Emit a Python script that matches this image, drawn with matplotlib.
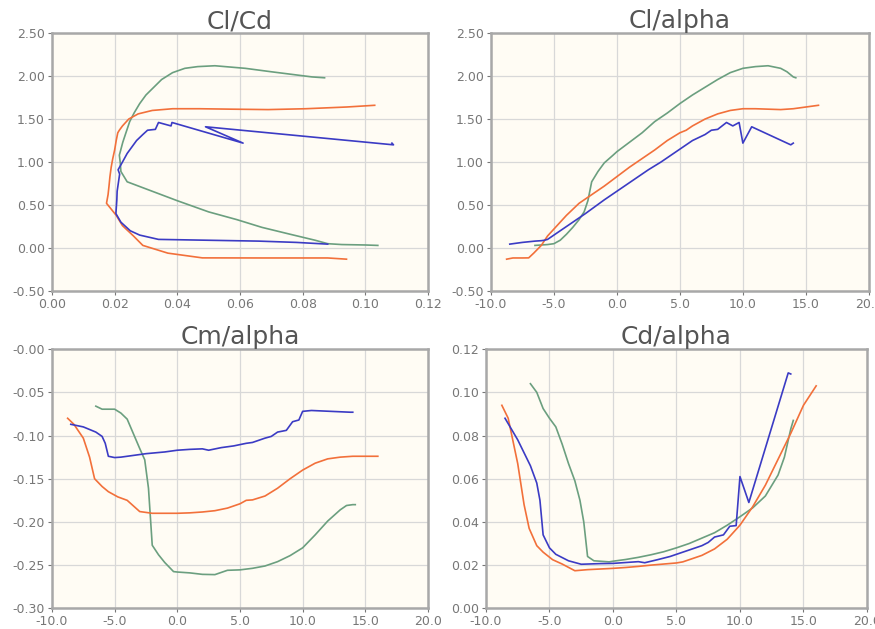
import matplotlib
matplotlib.use("Agg")
import matplotlib.pyplot as plt
import numpy as np

# blue series
alpha_b = [-8.5, -7.5, -6.5, -6.0, -5.75, -5.5, -5.0, -4.5, -3.5, -2.5, -1.0, 0.0, 1.0, 2.0, 2.5,
           3.5, 4.5, 5.5, 6.0, 7.0, 7.5, 8.0, 8.7, 9.2, 9.7, 10.0, 10.7, 13.8, 14.0]
cl_b = [0.045, 0.065, 0.08, 0.085, 0.09, 0.10, 0.15, 0.20, 0.30, 0.40, 0.56, 0.66, 0.76, 0.86, 0.91,
        1.00, 1.10, 1.20, 1.25, 1.32, 1.37, 1.38, 1.46, 1.42, 1.46, 1.22, 1.41, 1.20, 1.22]
cd_b = [0.088, 0.078, 0.066, 0.058, 0.050, 0.034, 0.028, 0.025, 0.022, 0.0204, 0.0207, 0.0208, 0.0212,
        0.0216, 0.0211, 0.0225, 0.024, 0.026, 0.027, 0.029, 0.0305, 0.033, 0.034, 0.038, 0.0383,
        0.061, 0.049, 0.109, 0.1085]
cm_b = [-0.087, -0.090, -0.096, -0.101, -0.109, -0.124, -0.1255, -0.125, -0.123, -0.121, -0.119,
        -0.117, -0.116, -0.1154, -0.117, -0.114, -0.112, -0.109, -0.108, -0.103, -0.101, -0.096,
        -0.094, -0.084, -0.082, -0.072, -0.071, -0.073, -0.073]

# orange series
alpha_o = [-8.75, -8.25, -7.5, -7.0, -6.6, -6.0, -5.5, -4.75, -4.0, -3.0, -2.0, -1.0, 0.0, 1.0, 2.0,
           3.0, 4.0, 5.0, 5.5, 6.0, 7.0, 8.0, 9.0, 10.0, 11.0, 12.0, 13.0, 14.0, 15.0, 16.0]
cl_o = [-0.13, -0.116, -0.116, -0.115, -0.06, 0.03, 0.14, 0.26, 0.38, 0.52, 0.62, 0.72, 0.83, 0.94,
        1.04, 1.14, 1.25, 1.34, 1.37, 1.42, 1.50, 1.56, 1.60, 1.62, 1.62, 1.615, 1.61, 1.62, 1.64, 1.66]
cd_o = [0.094, 0.088, 0.067, 0.048, 0.037, 0.029, 0.026, 0.0225, 0.0205, 0.0174, 0.0179, 0.0182,
        0.0185, 0.0189, 0.0194, 0.0200, 0.0205, 0.021, 0.0215, 0.0225, 0.0245, 0.0275, 0.032, 0.0385,
        0.047, 0.057, 0.069, 0.081, 0.094, 0.103]
cm_o = [-0.080, -0.087, -0.103, -0.125, -0.150, -0.159, -0.165, -0.171, -0.175, -0.188, -0.190,
        -0.190, -0.190, -0.1895, -0.1885, -0.187, -0.184, -0.179, -0.175, -0.1745, -0.170, -0.161,
        -0.150, -0.140, -0.132, -0.127, -0.125, -0.124, -0.124, -0.124]

# green series
alpha_g = [-6.5, -6.0, -5.5, -5.0, -4.5, -4.0, -3.5, -3.0, -2.6, -2.3, -2.0, -1.5, -1.0, -0.3, 0.0,
           1.0, 2.0, 3.0, 4.0, 5.0, 6.0, 7.0, 8.0, 9.0, 10.0, 11.0, 12.0, 13.0, 13.5, 14.0, 14.2]
cl_g = [0.03, 0.035, 0.04, 0.05, 0.09, 0.16, 0.24, 0.33, 0.42, 0.55, 0.77, 0.89, 0.99, 1.08, 1.12,
        1.23, 1.34, 1.47, 1.57, 1.68, 1.78, 1.87, 1.96, 2.04, 2.09, 2.11, 2.12, 2.09, 2.05, 1.99, 1.98]
cd_g = [0.104, 0.100, 0.0925, 0.088, 0.084, 0.076, 0.067, 0.059, 0.050, 0.040, 0.024, 0.022, 0.0218,
        0.0215, 0.0218, 0.0226, 0.0236, 0.0248, 0.0262, 0.028, 0.030, 0.0325, 0.035, 0.0385, 0.0424,
        0.0465, 0.052, 0.0617, 0.070, 0.083, 0.087]
cm_g = [-0.066, -0.0695, -0.0695, -0.0695, -0.074, -0.081, -0.098, -0.115, -0.128, -0.161, -0.227,
        -0.238, -0.247, -0.2575, -0.258, -0.259, -0.2607, -0.261, -0.256, -0.2555, -0.2537, -0.251,
        -0.246, -0.239, -0.230, -0.215, -0.199, -0.186, -0.181, -0.180, -0.180]

GREEN = "#6b9f7f"
ORANGE = "#f2703a"
BLUE = "#3b3bc4"
BG = "#fffcf4"

series = [
    (alpha_g, cl_g, cd_g, cm_g, GREEN),
    (alpha_o, cl_o, cd_o, cm_o, ORANGE),
    (alpha_b, cl_b, cd_b, cm_b, BLUE),
]

fig = plt.figure(figsize=(8.75, 6.29), dpi=100)

ax1 = fig.add_axes([0.0594, 0.5374, 0.4297, 0.410])
ax2 = fig.add_axes([0.561, 0.5374, 0.432, 0.410])
ax3 = fig.add_axes([0.0594, 0.0329, 0.4297, 0.412])
ax4 = fig.add_axes([0.5554, 0.0329, 0.4354, 0.412])

for a, cl, cd, cm, c in series:
    ax1.plot(cd, cl, color=c, lw=1.2)
    ax2.plot(a, cl, color=c, lw=1.2)
    ax3.plot(a, cm, color=c, lw=1.2)
    ax4.plot(a, cd, color=c, lw=1.2)

def style(ax, title, xlim, ylim, xticks, yticks, xfmt, yfmt):
    ax.set_facecolor(BG)
    ax.set_xlim(xlim)
    ax.set_ylim(ylim)
    ax.set_xticks(xticks)
    ax.set_yticks(yticks)
    ax.set_xticklabels([xfmt % v for v in xticks])
    ax.set_yticklabels([yfmt % v for v in yticks])
    ax.grid(True, color="#d8d8d8", lw=0.9)
    ax.set_axisbelow(True)
    for s in ax.spines.values():
        s.set_color("#a8a8a8")
        s.set_linewidth(1.8)
    ax.tick_params(colors="#777777", labelsize=9, length=3, width=0.8, pad=2)
    ax.set_title(title, fontsize=18, color="#555555", pad=2)

style(ax1, "Cl/Cd", (0, 0.12), (-0.5, 2.5), np.arange(0, 0.121, 0.02), np.arange(-0.5, 2.51, 0.5),
      "%.2f", "%.2f")
style(ax2, "Cl/alpha", (-10, 20), (-0.5, 2.5), np.arange(-10, 20.1, 5), np.arange(-0.5, 2.51, 0.5),
      "%.1f", "%.2f")
style(ax3, "Cm/alpha", (-10, 20), (-0.3, 0.0), np.arange(-10, 20.1, 5), np.arange(-0.3, 0.001, 0.05),
      "%.1f", "%.2f")
style(ax4, "Cd/alpha", (-10, 20), (0, 0.12), np.arange(-10, 20.1, 5), np.arange(0, 0.121, 0.02),
      "%.1f", "%.2f")

fig.savefig("out.png", dpi=100, facecolor="white")
